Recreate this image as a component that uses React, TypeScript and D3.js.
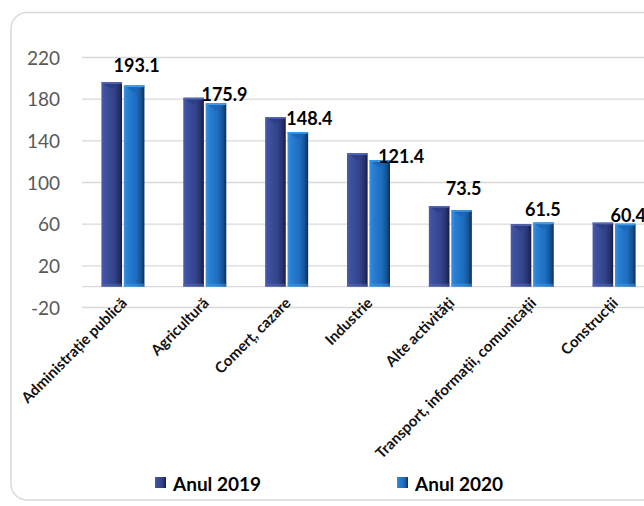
import React from "react";
import * as d3 from "d3";

const categories = [
  "Administrație publică",
  "Agricultură",
  "Comerț, cazare",
  "Industrie",
  "Alte activități",
  "Transport, informații, comunicații",
  "Construcții",
];
const series = ["Anul 2019", "Anul 2020"];
const values2019 = [196.3, 181.3, 162.8, 128.0, 77.4, 59.9, 61.4];
const values2020 = [193.1, 175.9, 148.4, 121.4, 73.5, 61.5, 60.4];
const yTicks = [-20, 20, 60, 100, 140, 180, 220];

// label offsets (layout only) relative to the 2020 bar top-center
const labelOffsets: [number, number][] = [
  [2.5, -13.5],
  [8.5, -2.4],
  [11.5, -7],
  [21.5, 2.8],
  [2, -15],
  [-0.5, -6.6],
  [3, -1.7],
];

const W = 644;
const H = 506;

export default function App() {
  const x = d3.scaleBand<string>().domain(categories).range([82, 655]).padding(0);
  const x1 = d3.scaleBand<string>().domain(series).range([-21.5, 21.5]).paddingInner(0.08);
  const y = d3.scaleLinear().domain([-20, 220]).range([307.5, 57.5]);
  const seriesValues = [values2019, values2020];
  const grads = ["g2019", "g2020"];
  const topFill = ["#5567b5", "#3e9be6"];
  const triFill = ["#2d3c82", "#1b63b4"];
  const y0 = y(0);

  return (
    <svg
      width={W}
      height={H}
      style={{ position: "absolute", left: 0, top: 0, background: "#fff" }}
    >
      <defs>
        <linearGradient id="g2019" x1="0" x2="1" y1="0" y2="0">
          <stop offset="0" stopColor="#4a5bab" />
          <stop offset="0.15" stopColor="#3f509f" />
          <stop offset="0.6" stopColor="#33448c" />
          <stop offset="0.85" stopColor="#25306a" />
          <stop offset="1" stopColor="#151b40" />
        </linearGradient>
        <linearGradient id="g2020" x1="0" x2="1" y1="0" y2="0">
          <stop offset="0" stopColor="#3b93e0" />
          <stop offset="0.15" stopColor="#2a80d2" />
          <stop offset="0.6" stopColor="#1d6cc0" />
          <stop offset="0.85" stopColor="#15508f" />
          <stop offset="1" stopColor="#0b2d55" />
        </linearGradient>
      </defs>
      <rect x={11} y={12.5} width={650} height={487.5} rx={16} fill="#fff" stroke="#d9d9d9" strokeWidth={1.5} />

      {/* gridlines */}
      {[...yTicks, 0].map((t) => (
        <line key={"g" + t} x1={82} x2={W} y1={y(t)} y2={y(t)} stroke="#d9d9d9" strokeWidth={1.4} />
      ))}
      {/* y tick labels */}
      {yTicks.map((t) => (
        <text
          key={"t" + t}
          x={60}
          y={y(t) + 7}
          textAnchor="end"
          fontFamily="Lato, 'Open Sans', sans-serif"
          fontSize={19}
          fill="#595959"
        >
          {t}
        </text>
      ))}

      {/* bars */}
      {categories.map((c, i) => {
        const cx = (x(c) as number) + x.bandwidth() / 2;
        return (
          <g key={c}>
            {series.map((s, k) => {
              const v = seriesValues[k][i];
              const bx = cx + (x1(s) as number);
              const bw = x1.bandwidth();
              const top = y(v);
              const h = y0 - top;
              return (
                <g key={s}>
                  <rect x={bx} y={top} width={bw} height={h} fill={`url(#${grads[k]})`} />
                  <path
                    d={`M${bx},${top} L${bx + bw},${top} L${bx + bw / 2},${top + 7} Z`}
                    fill={triFill[k]}
                    opacity={0.8}
                  />
                  <rect x={bx} y={top} width={bw} height={1.6} fill={topFill[k]} />
                  <rect x={bx} y={y0 - 3} width={bw} height={3} fill={topFill[k]} opacity={0.5} />
                </g>
              );
            })}
          </g>
        );
      })}

      {/* data labels for 2020 */}
      {categories.map((c, i) => {
        const cx = (x(c) as number) + x.bandwidth() / 2 + (x1("Anul 2020") as number) + x1.bandwidth() / 2;
        const [dx, dy] = labelOffsets[i];
        return (
          <text
            key={"l" + c}
            x={cx + dx}
            y={y(values2020[i]) + dy}
            textAnchor="middle"
            fontFamily="Lato, 'Open Sans', sans-serif"
            fontWeight={700}
            fontSize={18}
            fill="#000"
          >
            {values2020[i].toFixed(1)}
          </text>
        );
      })}

      {/* category labels */}
      {categories.map((c) => {
        const cx = (x(c) as number) + x.bandwidth() / 2;
        const ax = cx + 5;
        const ay = 304;
        return (
          <text
            key={"c" + c}
            x={ax}
            y={ay}
            transform={`rotate(-45 ${ax} ${ay})`}
            textAnchor="end"
            fontFamily="Lato, 'Open Sans', sans-serif"
            fontWeight={700}
            fontSize={15}
            fill="#111"
          >
            {c}
          </text>
        );
      })}

      {/* legend */}
      {series.map((s, k) => {
        const lx = [155, 397][k];
        return (
          <g key={"lg" + s}>
            <rect x={lx} y={477} width={11} height={11} fill={`url(#${grads[k]})`} />
            <text
              x={lx + 18}
              y={491}
              fontFamily="Lato, 'Open Sans', sans-serif"
              fontWeight={700}
              fontSize={19}
              fill="#000"
            >
              {s}
            </text>
          </g>
        );
      })}
    </svg>
  );
}
